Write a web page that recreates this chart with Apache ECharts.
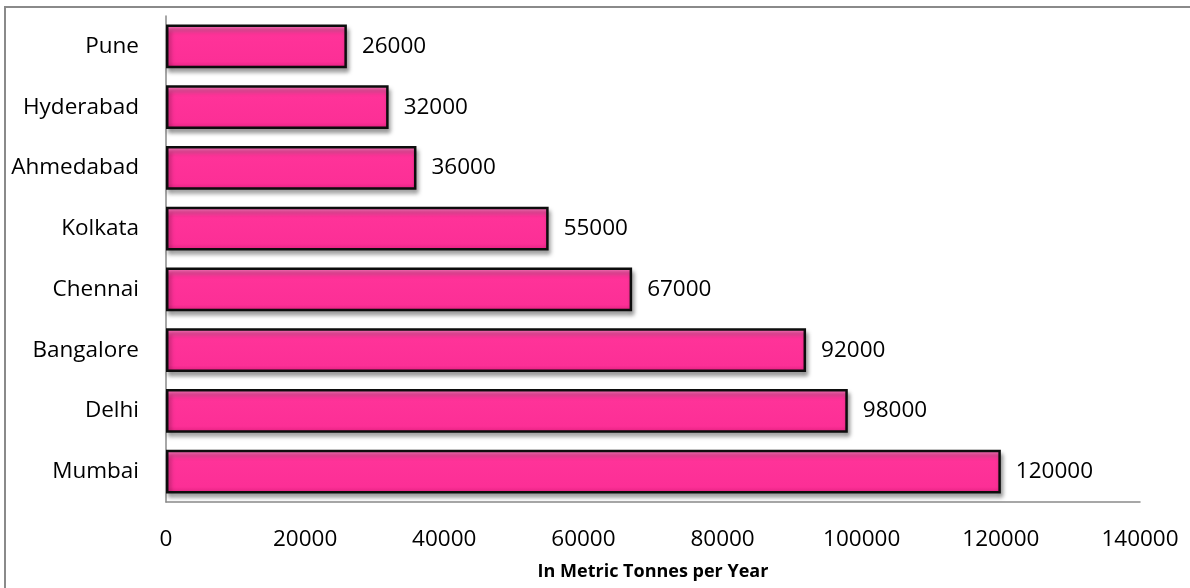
<!DOCTYPE html>
<html>
<head>
<meta charset="utf-8">
<script src="https://cdn.jsdelivr.net/npm/echarts@6/dist/echarts.min.js"></script>
<style>
  html, body { margin: 0; padding: 0; background: #ffffff; }
  #chart { width: 1190px; height: 588px; }
</style>
</head>
<body>
<div id="chart"></div>
<script>
// Cities listed bottom to top along the category axis
const cities = ['Mumbai', 'Delhi', 'Bangalore', 'Chennai', 'Kolkata', 'Ahmedabad', 'Hyderabad', 'Pune'];
// Annual quantity per city, metric tonnes
const tonnes = [120000, 98000, 92000, 67000, 55000, 36000, 32000, 26000];
// Value axis range and step
const axisMin = 0;
const axisMax = 140000;
const axisStep = 20000;

const FONT = '"Open Sans", "Noto Sans", sans-serif';

const chart = echarts.init(document.getElementById('chart'), null, { renderer: 'canvas' });

// Bevelled pink fill: bright rim on top, saturated body, darker lower edge
const barFill = new echarts.graphic.LinearGradient(0, 0, 0, 1, [
  { offset: 0.0, color: '#ff8cc8' },
  { offset: 0.12, color: '#ff4fa8' },
  { offset: 0.22, color: '#ff3399' },
  { offset: 0.85, color: '#fc2f96' },
  { offset: 1.0, color: '#e0207f' }
]);

chart.setOption({
  backgroundColor: '#ffffff',
  animation: false,
  graphic: [{
    type: 'rect',
    shape: { x: 5, y: 7, width: 1300, height: 700 },
    style: { fill: 'none', stroke: '#8a8a8a', lineWidth: 2 },
    silent: true
  }],
  grid: { left: 166, right: 50, top: 16, bottom: 86, containLabel: false, outerBoundsMode: 'none' },
  xAxis: {
    type: 'value',
    min: axisMin,
    max: axisMax,
    interval: axisStep,
    name: 'In Metric Tonnes per Year',
    nameLocation: 'middle',
    nameGap: 61,
    nameMoveOverlap: false,
    nameTextStyle: { fontFamily: FONT, fontSize: 18, fontWeight: 'bold', color: '#000' },
    axisLine: { show: true, lineStyle: { color: '#8a8a8a', width: 1.5 } },
    axisTick: { show: false },
    splitLine: { show: false },
    axisLabel: {
      margin: 26, fontFamily: FONT, fontSize: 22.5, color: '#000',
      formatter: function (v) { return String(v); }
    }
  },
  yAxis: {
    type: 'category',
    data: cities,
    axisLine: { show: true, lineStyle: { color: '#8a8a8a', width: 1.5 } },
    axisTick: { show: false },
    splitLine: { show: false },
    axisLabel: { margin: 27, fontFamily: FONT, fontSize: 22.5, color: '#000' }
  },
  series: [{
    type: 'bar',
    data: tonnes,
    barCategoryGap: '28%',
    itemStyle: {
      color: barFill,
      borderColor: '#0d0d0d',
      borderWidth: 2.5,
      shadowColor: 'rgba(0,0,0,0.35)',
      shadowBlur: 4,
      shadowOffsetX: 2,
      shadowOffsetY: 4
    },
    label: {
      show: true,
      position: 'right',
      distance: 15,
      fontFamily: FONT,
      fontSize: 22.5,
      color: '#000'
    }
  }]
});
</script>
</body>
</html>
